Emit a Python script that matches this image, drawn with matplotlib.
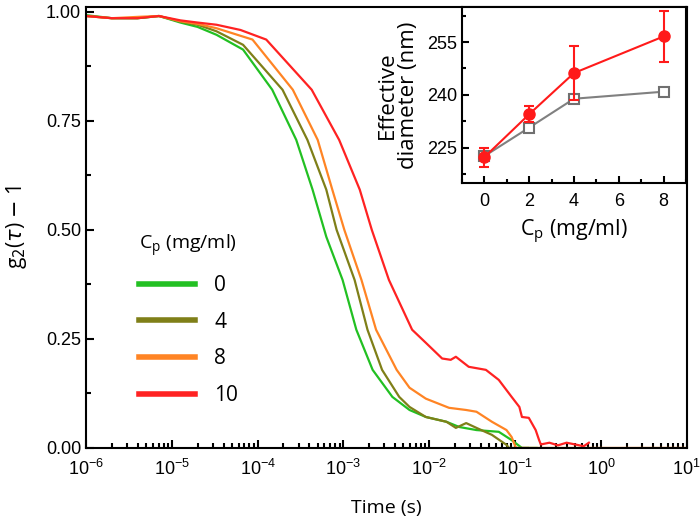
import numpy as np
import matplotlib.pyplot as plt
from matplotlib.ticker import LogLocator, MultipleLocator, NullFormatter

# main panel: log10(tau / s) and g2(tau)-1
logt_0 = [-6.0, -5.7, -5.4, -5.15, -4.9, -4.7, -4.48, -4.17, -3.83, -3.55, -3.36, -3.20, -3.01,
          -2.85, -2.66, -2.43, -2.23, -2.04, -1.80, -1.65, -1.45, -1.19, -1.04, -0.92, -0.75]
g_0 = [0.992, 0.985, 0.985, 0.99, 0.975, 0.965, 0.947, 0.913, 0.821, 0.706, 0.592, 0.484, 0.385,
       0.271, 0.179, 0.117, 0.087, 0.071, 0.060, 0.048, 0.041, 0.037, 0.018, 0.0, 0.0]

logt_4 = [-6.0, -5.7, -5.4, -5.15, -4.9, -4.7, -4.48, -4.17, -3.71, -3.42, -3.20, -3.08, -2.87,
          -2.72, -2.55, -2.35, -2.23, -2.04, -1.80, -1.69, -1.57, -1.45, -1.27, -1.10, -1.07, -0.85]
g_4 = [0.99, 0.985, 0.985, 0.99, 0.977, 0.97, 0.955, 0.924, 0.821, 0.706, 0.592, 0.50, 0.385,
       0.271, 0.179, 0.117, 0.094, 0.071, 0.060, 0.046, 0.057, 0.046, 0.030, 0.007, 0.0, 0.0]

logt_8 = [-6.0, -5.7, -5.4, -5.15, -4.9, -4.7, -4.48, -4.06, -3.59, -3.30, -3.13, -2.99, -2.79,
          -2.62, -2.38, -2.23, -2.04, -1.77, -1.57, -1.45, -1.27, -1.10, -1.04, -0.99, 1.0]
g_8 = [0.99, 0.985, 0.988, 0.99, 0.978, 0.972, 0.962, 0.936, 0.821, 0.706, 0.592, 0.50, 0.385,
       0.271, 0.179, 0.138, 0.113, 0.092, 0.087, 0.083, 0.060, 0.041, 0.025, 0.0, 0.0]

logt_10 = [-6.0, -5.7, -5.4, -5.15, -4.9, -4.7, -4.48, -4.2, -3.90, -3.37, -3.05, -2.81, -2.67,
           -2.47, -2.20, -2.04, -1.85, -1.75, -1.69, -1.54, -1.34, -1.19, -1.04, -0.95, -0.92,
           -0.84, -0.76, -0.72, -0.70, -0.6, -0.5, -0.4, -0.3, -0.2, -0.14]
g_10 = [0.99, 0.985, 0.985, 0.99, 0.98, 0.975, 0.97, 0.958, 0.936, 0.821, 0.706, 0.592, 0.50,
        0.385, 0.271, 0.241, 0.205, 0.202, 0.209, 0.186, 0.179, 0.156, 0.117, 0.094, 0.071,
        0.069, 0.041, 0.018, 0.008, 0.012, 0.006, 0.012, 0.008, 0.004, 0.012]

labels = ['0', '4', '8', '10']
colors = ['#22c022', '#7f7f18', '#ff8424', '#ff2222']

# inset: effective diameter vs Cp
cp = [0, 2, 4, 8]
d_red = [222.3, 234.5, 246.2, 256.6]
d_red_err = [2.7, 2.2, 7.7, 7.3]
d_gray = [222.6, 230.7, 238.9, 240.9]

plt.rcParams['font.family'] = ['Liberation Sans', 'DejaVu Sans']
lab_font = ['Open Sans', 'DejaVu Sans']

fig = plt.figure(figsize=(7, 5.27), dpi=100)
ax = fig.add_axes([0.1229, 0.150, 0.8581, 0.837])

series = [(logt_0, g_0), (logt_4, g_4), (logt_8, g_8), (logt_10, g_10)]
for (lt, g), c, lab in zip(series, colors, labels):
    ax.plot(10 ** np.array(lt), g, color=c, lw=1.6, label=lab)

ax.set_xscale('log')
ax.set_xlim(1e-6, 1e1)
ax.set_ylim(0, 1.011)
ax.set_yticks([0, 0.25, 0.5, 0.75, 1.0])
ax.set_yticklabels(['0.00', '0.25', '0.50', '0.75', '1.00'])
ax.yaxis.set_minor_locator(MultipleLocator(0.125))
ax.xaxis.set_major_locator(LogLocator(base=10, numticks=20))
ax.xaxis.set_minor_locator(LogLocator(base=10, subs=np.arange(2, 10), numticks=20))
ax.xaxis.set_minor_formatter(NullFormatter())
ax.tick_params(which='both', direction='in', top=False, right=False, labelsize=13, width=1.5)
ax.tick_params(which='major', length=6)
ax.tick_params(which='minor', length=3.5)
ax.tick_params(axis='x', which='major', pad=8)
for s in ax.spines.values():
    s.set_linewidth(1.5)
ax.set_xlabel('Time (s)', fontsize=14, family=lab_font, labelpad=14)
ax.set_ylabel(r'g$_2$($\tau$) $-$ 1', fontsize=15, family=lab_font, labelpad=12)

leg = ax.legend(loc='upper left', bbox_to_anchor=(0.057, 0.53), frameon=False,
                title='C$_\\mathregular{p}$ (mg/ml)', fontsize=15, title_fontsize=14,
                handlelength=2.7, handletextpad=0.9, labelspacing=0.75, alignment='left',
                prop={'family': lab_font, 'size': 15})
leg.get_title().set_family(lab_font)
for h in leg.legend_handles:
    h.set_linewidth(4)

ins = fig.add_axes([0.66, 0.653, 0.32, 0.334])
ins.plot(cp, d_gray, color='#808080', lw=1.5, marker='s', ms=7, mfc='white',
         mec='#707070', mew=1.5, zorder=2)
ins.errorbar(cp, d_red, yerr=d_red_err, color='#ff1a1a', lw=1.5, marker='o', ms=8,
             capsize=3.5, capthick=1.5, elinewidth=1.5, zorder=3)
ins.set_xlim(-1, 9)
ins.set_ylim(215, 265)
ins.set_xticks([0, 2, 4, 6, 8])
ins.xaxis.set_minor_locator(MultipleLocator(1))
ins.set_yticks([225, 240, 255])
ins.yaxis.set_minor_locator(MultipleLocator(7.5))
ins.tick_params(which='both', direction='in', top=False, right=False, labelsize=13, width=1.5)
ins.tick_params(which='major', length=5)
ins.tick_params(which='minor', length=3)
ins.tick_params(axis='x', which='major', pad=7)
for s in ins.spines.values():
    s.set_linewidth(1.5)
ins.set_xlabel('C$_\\mathregular{p}$ (mg/ml)', fontsize=15.5, family=lab_font, labelpad=6)
ins.set_ylabel('Effective\ndiameter (nm)', fontsize=16, family=lab_font, labelpad=6,
               linespacing=1.0)

plt.savefig('out.png', dpi=100)
